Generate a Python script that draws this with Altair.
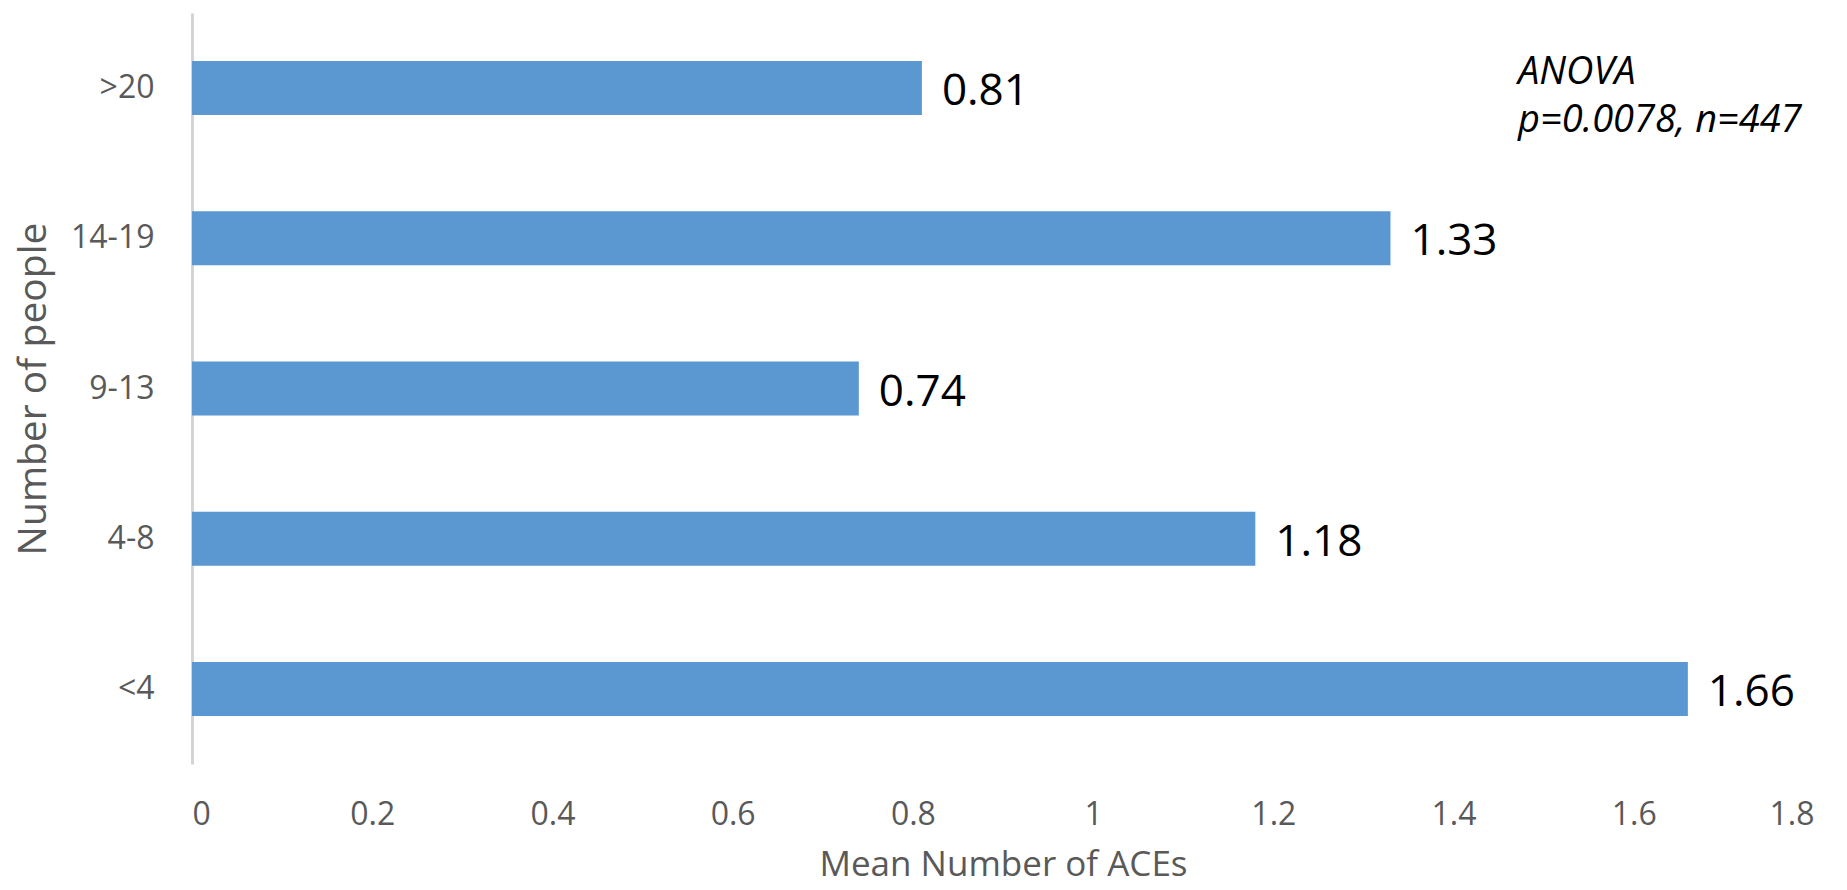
import altair as alt
import pandas as pd

categories = [">20", "14-19", "9-13", "4-8", "<4"]
values = [0.81, 1.33, 0.74, 1.18, 1.66]
x_ticks = [0, 0.2, 0.4, 0.6, 0.8, 1.0, 1.2, 1.4, 1.6, 1.8]
annotation_lines = ["ANOVA", "p=0.0078, n=447"]

df = pd.DataFrame({"group": categories, "mean": values})
df["label"] = [f"{v:.2f}" for v in values]

FONT = "Open Sans"

x_enc = alt.X(
    "mean:Q",
    scale=alt.Scale(domain=[0, 1.8], nice=False, zero=True),
    axis=alt.Axis(
        values=x_ticks,
        title="Mean Number of ACEs",
        labelExpr="datum.value == 1 ? '1' : (datum.value == 0 ? '0' : format(datum.value, '.1f'))",
        grid=False,
        domain=False,
        ticks=False,
        tickSize=0,
        labelPadding=35,
        labelFontSize=32,
        labelColor="#595959",
        labelFont=FONT,
        titleFont=FONT,
        titleFontSize=35,
        titleFontWeight="normal",
        titleColor="#595959",
        titlePadding=17,
    ),
)
y_enc = alt.Y(
    "group:N",
    sort=categories,
    scale=alt.Scale(paddingInner=0.64, paddingOuter=0.32),
    axis=alt.Axis(
        title="Number of people",
        grid=False,
        ticks=False,
        tickSize=0,
        domain=True,
        domainColor="#d4d4d4",
        domainWidth=3,
        labelPadding=38,
        labelFontSize=32,
        labelColor="#595959",
        labelFont=FONT,
        titleFont=FONT,
        titleFontSize=39,
        titleFontWeight="normal",
        titleColor="#595959",
        titleX=-159,
        titleBaseline="middle",
    ),
)

bars = alt.Chart(df).mark_bar(color="#5b97d1", height=54).encode(x=x_enc, y=y_enc)

labels = alt.Chart(df).mark_text(
    align="left", baseline="middle", dx=20, dy=4, fontSize=44, font=FONT, color="#000000"
).encode(x="mean:Q", y=alt.Y("group:N", sort=categories), text="label:N")

annot = alt.Chart(pd.DataFrame({"a": [0]})).mark_text(
    align="left", baseline="alphabetic", fontSize=38, font=FONT, fontStyle="italic",
    color="#000000", lineHeight=48,
).encode(x=alt.value(1326), y=alt.value(71), text=alt.value(annotation_lines))

chart = (
    alt.layer(bars, labels, annot)
    .properties(
        width=1622,
        height=751,
        background="white",
        autosize=alt.AutoSizeParams(type="none"),
        padding={"left": 184, "top": 5, "right": 25, "bottom": 118},
    )
    .configure_view(strokeWidth=0, stroke="transparent")
)

chart.save("out.html", embed_options={"renderer": "svg", "actions": False})
